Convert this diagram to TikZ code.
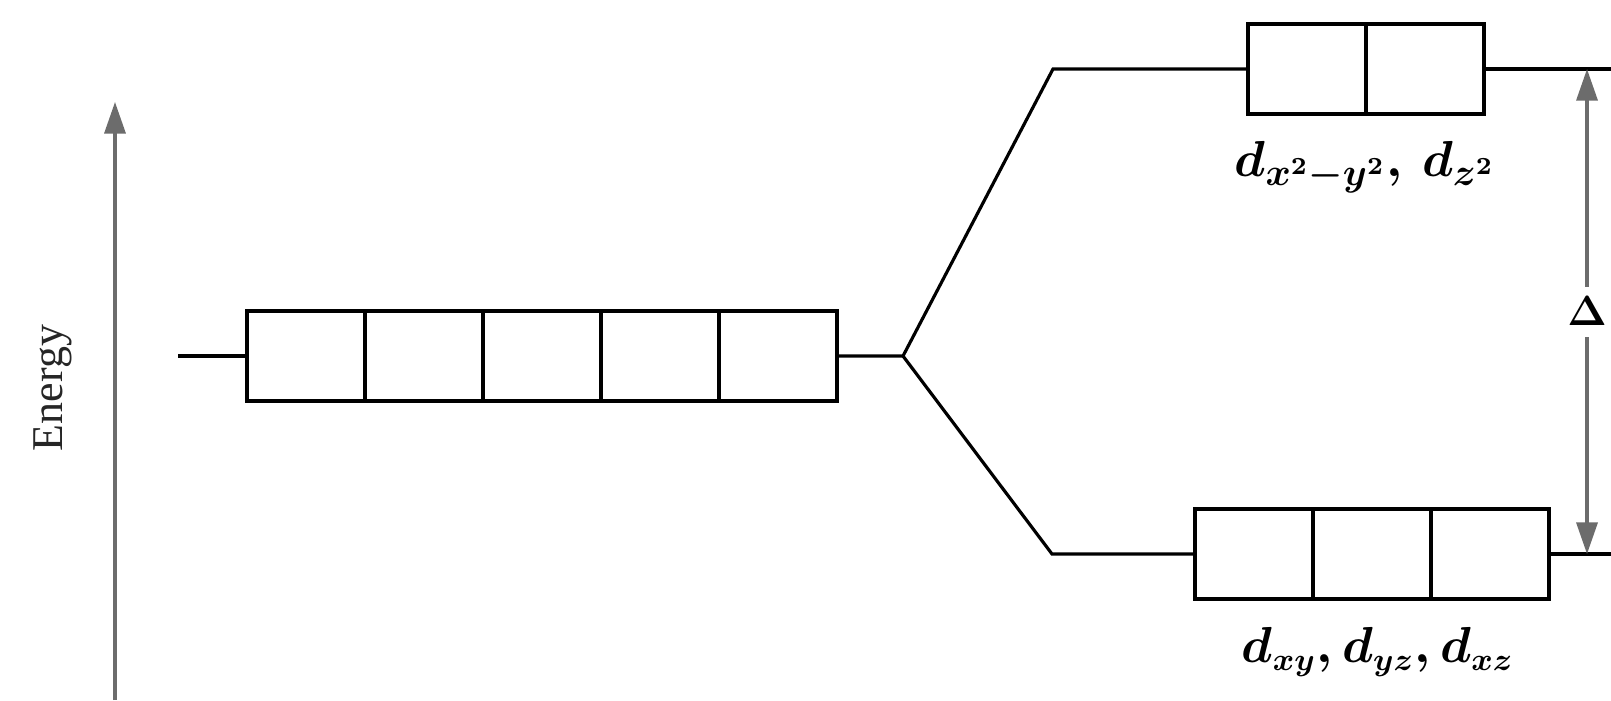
\documentclass[tikz,border=0pt]{standalone}
\usepackage{fontspec}
\setmainfont{Liberation Serif}
\usetikzlibrary{arrows.meta, positioning}
\tikzset{
    orb/.style={draw, line width=1.1pt, minimum width=1.18cm, minimum height=0.9cm, inner sep=0pt, outer sep=0pt},
    level/.style={line width=0.9pt},
    axis/.style={-{Triangle[width=6pt,length=9pt]}, line width=0.9pt, gray!85!black},
    gaparrow/.style={{Triangle[width=6pt,length=9pt]}-{Triangle[width=6pt,length=9pt]}, line width=0.9pt, gray!85!black},
    lbl/.style={font=\fontsize{15}{18}\selectfont\boldmath}
}

\begin{document}
\begin{tikzpicture}
        \useasboundingbox (0,0) rectangle (16.11,7);
        % energy axis
        \coordinate (ebot) at (1.15,0);
        \coordinate (etop) at (1.15,5.98);
        \draw [axis] (ebot) -- (etop);
        \node [rotate=90, font=\fontsize{12.5}{15}\selectfont, text=black!85] (energy) at (0.53,3.12) {Energy};
        % free ion, five d orbitals
        \node [orb] (d1) at (3.06,3.44) {};
        \foreach \i [count=\j from 2] in {1,...,4}
            \node [orb, right=0pt of d\i] (d\j) {};
        % e_g set
        \node [orb] (eg1) at (13.07,6.31) {};
        \node [orb, right=0pt of eg1] (eg2) {};
        % t_2g set
        \node [orb] (t1) at (12.54,1.46) {};
        \node [orb, right=0pt of t1] (t2) {};
        \node [orb, right=0pt of t2] (t3) {};
        \coordinate (start) at (1.78,3.44);
        \coordinate (split) at (9.03,3.44);
        \coordinate (upc) at (10.53,6.31);
        \coordinate (loc) at (10.52,1.46);
        \coordinate (upend) at (16.11,6.31);
        \coordinate (loend) at (16.11,1.46);
        \draw [level] (start) -- (d1.west);
        \draw [level] (d5.east) -- (split) -- (upc) -- (eg1.west);
        \draw [level] (split) -- (loc) -- (t1.west);
        \draw [level] (eg2.east) -- (upend);
        \draw [level] (t3.east) -- (loend);
        % splitting
        \coordinate (gtop) at (15.87,6.31);
        \coordinate (gbot) at (15.87,1.46);
        \draw [gaparrow] (gbot) -- (gtop) node [midway, fill=white, text=black, inner sep=3pt, font=\fontsize{13}{15}\selectfont\boldmath] (delta) {$\Delta$};
        \node [lbl] (eglbl) at (13.65,5.33) {$d_{x^2-y^2},\, d_{z^2}$};
        \node [lbl, font=\fontsize{13.5}{16}\selectfont\boldmath] (tlbl) at (13.78,0.48) {$d_{xy}{,}\,d_{yz}{,}\,d_{xz}$};
    \end{tikzpicture}
\end{document}
